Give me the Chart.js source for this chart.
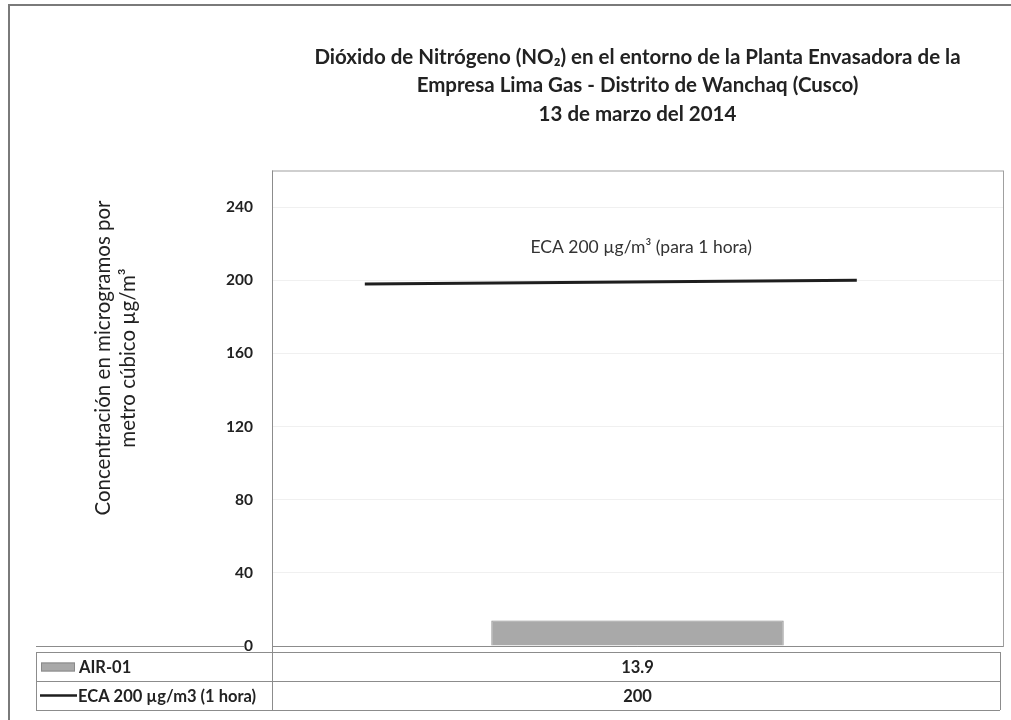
<!DOCTYPE html>
<html>
<head>
<meta charset="utf-8">
<script src="https://cdn.jsdelivr.net/npm/chart.js@4.4.1/dist/chart.umd.min.js"></script>
<style>
  html, body { margin: 0; padding: 0; background: #fff; }
  canvas { display: block; }
</style>
</head>
<body>
<canvas id="no2Chart" width="1011" height="720"></canvas>
<script>
// Data
const categories = ["AIR-01"];
const barLabel = "AIR-01";
const barValues = [13.9];
const ecaLabel = "ECA 200 µg/m3 (1 hora)";
const ecaValues = [200];
// ECA line as drawn in the picture (x in fraction of the plot width, y in µg/m³)
const ecaLineX = [0.127, 0.8];
const ecaLineY = [198, 200];
const yTicks = [0, 40, 80, 120, 160, 200, 240];
const yMax = 260;

const titleLines = [
  "Dióxido de Nitrógeno (NO\u2082) en el entorno de la Planta Envasadora de la",
  "Empresa Lima Gas - Distrito de Wanchaq (Cusco)",
  "13 de marzo del 2014",
];
const yTitleLines = ["Concentración en microgramos por", "metro cúbico µg/m³"];
const ecaNote = "ECA 200 µg/m³ (para 1 hora)";

const FONT = "Lato, 'Open Sans', sans-serif";
const TEXT = "#222";
const LINE = "#8c8c8c";

// frame, plot box, axis title, note and the data table under the plot
const extras = {
  id: "extras",
  beforeDraw(chart) {
    const ctx = chart.ctx;
    ctx.save();
    ctx.fillStyle = "#fff";
    ctx.fillRect(0, 0, chart.width, chart.height);
    ctx.strokeStyle = "#7a7a7a";
    ctx.lineWidth = 2;
    ctx.beginPath();
    ctx.moveTo(9, chart.height);
    ctx.lineTo(9, 5);
    ctx.lineTo(chart.width, 5);
    ctx.stroke();
    ctx.restore();
  },
  afterDraw(chart) {
    const ctx = chart.ctx;
    const area = chart.chartArea;
    const xs = chart.scales.x;
    const ys = chart.scales.y;
    const xl = chart.scales.xl;
    ctx.save();

    // plot box
    ctx.strokeStyle = "#a0a0a0";
    ctx.lineWidth = 1;
    ctx.strokeRect(area.left + 0.5, area.top + 0.5, area.right - area.left, area.bottom - area.top);

    // y axis title (two rotated lines)
    ctx.fillStyle = TEXT;
    ctx.textAlign = "center";
    ctx.textBaseline = "middle";
    ctx.translate(103, 358);
    ctx.rotate(-Math.PI / 2);
    ctx.font = "20.5px " + FONT;
    ctx.fillText(yTitleLines[0], 0, 0);
    ctx.fillText(yTitleLines[1], 0, 25);
    ctx.setTransform(1, 0, 0, 1, 0, 0);

    // note above the ECA line
    ctx.font = "17.5px " + FONT;
    ctx.fillStyle = "#333";
    ctx.fillText(ecaNote, xl.getPixelForValue(0.505), ys.getPixelForValue(218));

    // data table
    const tLeft = 36;
    const tRight = area.right - 3;
    const r0 = area.bottom + 6;
    const rowH = 29;
    const zeroY = ys.getPixelForValue(0);
    ctx.strokeStyle = LINE;
    ctx.lineWidth = 1;
    ctx.beginPath();
    ctx.moveTo(tLeft, Math.round(zeroY) + 0.5);
    ctx.lineTo(245, Math.round(zeroY) + 0.5);
    ctx.moveTo(area.left, Math.round(zeroY) + 0.5);
    ctx.lineTo(area.right, Math.round(zeroY) + 0.5);
    for (let i = 0; i <= 2; i++) {
      const y = Math.round(r0 + i * rowH) + 0.5;
      ctx.moveTo(tLeft, y);
      ctx.lineTo(tRight, y);
    }
    ctx.moveTo(tLeft + 0.5, r0);
    ctx.lineTo(tLeft + 0.5, r0 + 2 * rowH);
    ctx.moveTo(area.left + 0.5, area.top);
    ctx.lineTo(area.left + 0.5, r0 + 2 * rowH);
    ctx.moveTo(tRight + 0.5, r0);
    ctx.lineTo(tRight + 0.5, r0 + 2 * rowH);
    ctx.stroke();

    // legend keys
    const y1 = r0 + rowH / 2;
    const y2 = r0 + rowH * 1.5;
    ctx.fillStyle = "#a9a9a9";
    ctx.fillRect(41, y1 - 4, 34, 9);
    ctx.strokeStyle = "#8a8a8a";
    ctx.strokeRect(41.5, y1 - 3.5, 33, 8);
    ctx.strokeStyle = "#1e1e1e";
    ctx.lineWidth = 2.5;
    ctx.beginPath();
    ctx.moveTo(40, y2);
    ctx.lineTo(77, y2);
    ctx.stroke();

    ctx.fillStyle = TEXT;
    ctx.font = "bold 16.5px " + FONT;
    ctx.textAlign = "left";
    ctx.fillText(barLabel, 79, y1 + 1);
    ctx.fillText(ecaLabel, 78, y2 + 1);
    ctx.textAlign = "center";
    const cx = xs.getPixelForValue(0);
    ctx.fillText(String(barValues[0]), cx, y1 + 1);
    ctx.fillText(String(ecaValues[0]), cx, y2 + 1);
    ctx.restore();
  },
};

const ctx = document.getElementById("no2Chart").getContext("2d");
new Chart(ctx, {
  type: "bar",
  data: {
    labels: categories,
    datasets: [
      {
        type: "bar",
        label: barLabel,
        data: barValues,
        xAxisID: "x",
        grouped: false,
        backgroundColor: "#a9a9a9",
        borderColor: "#8a8a8a",
        borderWidth: 1,
        categoryPercentage: 0.4,
        barPercentage: 1,
      },
      {
        type: "line",
        label: ecaLabel,
        data: ecaLineX.map((x, i) => ({ x: x, y: ecaLineY[i] })),
        xAxisID: "xl",
        borderColor: "#1e1e1e",
        borderWidth: 3,
        pointRadius: 0,
        fill: false,
      },
    ],
  },
  options: {
    responsive: false,
    animation: false,
    events: [],
    layout: {
      padding: { left: 0, top: 0, right: 8, bottom: 74 },
    },
    plugins: {
      legend: { display: false },
      tooltip: { enabled: false },
      title: {
        display: true,
        text: titleLines,
        fullSize: false,
        color: TEXT,
        font: { family: FONT, size: 20.5, weight: "bold", lineHeight: "28.5px" },
        padding: { top: 43, bottom: 42 },
      },
    },
    scales: {
      x: {
        type: "category",
        display: false,
      },
      xl: {
        type: "linear",
        display: false,
        offset: false,
        min: 0,
        max: 1,
      },
      y: {
        min: 0,
        max: yMax,
        afterFit(scale) {
          scale.width = 272;
        },
        afterBuildTicks(scale) {
          scale.ticks = yTicks.map((v) => ({ value: v }));
        },
        border: { display: false },
        grid: { color: "rgba(0,0,0,0.06)", drawTicks: false },
        ticks: {
          padding: 19,
          color: TEXT,
          font: { family: FONT, size: 15.5, weight: "bold" },
        },
      },
    },
  },
  plugins: [extras],
});
</script>
</body>
</html>
